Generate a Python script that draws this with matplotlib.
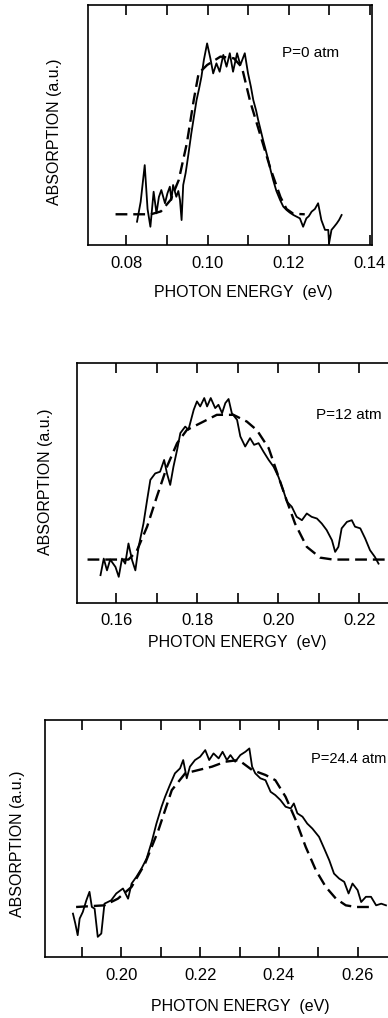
import matplotlib
matplotlib.use("Agg")
import matplotlib.pyplot as plt

plt.rcParams['font.family'] = ['Liberation Sans', 'DejaVu Sans']

# --- P = 0 atm ---
e0_meas = [0.0826, 0.0835, 0.0845, 0.0852, 0.0859, 0.0867, 0.0874, 0.0880, 0.0886, 0.0895, 0.0901,
           0.0907, 0.0911, 0.0915, 0.0923, 0.0928, 0.0932, 0.0936, 0.0940, 0.0946, 0.0952, 0.0960,
           0.0967, 0.0973, 0.0979, 0.0985, 0.0991, 0.0999, 0.1007, 0.1014, 0.1022, 0.1030, 0.1039,
           0.1047, 0.1055, 0.1063, 0.1073, 0.1081, 0.1092, 0.1100, 0.1107, 0.1113, 0.1120, 0.1125,
           0.1131, 0.1137, 0.1143, 0.1150, 0.1156, 0.1162, 0.1170, 0.1179, 0.1187, 0.1195, 0.1203,
           0.1212, 0.1220, 0.1228, 0.1236, 0.1244, 0.1250, 0.1257, 0.1265, 0.1273, 0.1281, 0.1290,
           0.1298, 0.1300, 0.1306, 0.1312, 0.1319, 0.1325, 0.1331]
a0_meas = [0.097, 0.180, 0.333, 0.150, 0.076, 0.222, 0.132, 0.200, 0.229, 0.174, 0.215,
           0.243, 0.188, 0.250, 0.201, 0.225, 0.188, 0.104, 0.250, 0.300, 0.368, 0.465,
           0.540, 0.604, 0.650, 0.701, 0.771, 0.840, 0.778, 0.715, 0.757, 0.722, 0.792,
           0.743, 0.799, 0.722, 0.799, 0.750, 0.799, 0.715, 0.660, 0.604, 0.560, 0.521,
           0.480, 0.438, 0.400, 0.354, 0.310, 0.271, 0.225, 0.188, 0.160, 0.146, 0.135,
           0.125, 0.118, 0.111, 0.076, 0.111, 0.120, 0.139, 0.150, 0.174, 0.104, 0.063,
           0.063, 0.007, 0.063, 0.075, 0.090, 0.105, 0.125]
e0_fit = [0.0773, 0.0860, 0.0885, 0.0909, 0.0929, 0.0949, 0.0966, 0.0978, 0.0999, 0.1032,
          0.1065, 0.1085, 0.1105, 0.1130, 0.1155, 0.1180, 0.1195, 0.1212, 0.1240]
a0_fit = [0.128, 0.128, 0.140, 0.188, 0.271, 0.424, 0.604, 0.715, 0.750, 0.785,
          0.778, 0.740, 0.600, 0.460, 0.320, 0.200, 0.150, 0.130, 0.128]

# --- P = 12 atm ---
e12_meas = [0.1561, 0.1569, 0.1577, 0.1585, 0.1598, 0.1606, 0.1614, 0.1622, 0.1630, 0.1639, 0.1647,
            0.1655, 0.1667, 0.1676, 0.1684, 0.1696, 0.1708, 0.1718, 0.1725, 0.1733, 0.1741, 0.1750,
            0.1758, 0.1770, 0.1778, 0.1791, 0.1799, 0.1807, 0.1817, 0.1824, 0.1833, 0.1844, 0.1852,
            0.1861, 0.1869, 0.1877, 0.1885, 0.1898, 0.1906, 0.1918, 0.1930, 0.1940, 0.1951, 0.1963,
            0.1976, 0.1988, 0.2000, 0.2013, 0.2021, 0.2033, 0.2045, 0.2058, 0.2070, 0.2082, 0.2095,
            0.2107, 0.2119, 0.2132, 0.2140, 0.2148, 0.2156, 0.2169, 0.2181, 0.2189, 0.2202, 0.2214,
            0.2226, 0.2238, 0.2247]
a12_meas = [0.116, 0.185, 0.136, 0.181, 0.150, 0.109, 0.185, 0.164, 0.248, 0.178, 0.136,
            0.234, 0.331, 0.429, 0.513, 0.540, 0.547, 0.596, 0.540, 0.492, 0.568, 0.638,
            0.708, 0.735, 0.722, 0.805, 0.840, 0.819, 0.854, 0.819, 0.854, 0.812, 0.826,
            0.791, 0.833, 0.850, 0.791, 0.763, 0.694, 0.652, 0.687, 0.659, 0.666, 0.631,
            0.596, 0.568, 0.526, 0.464, 0.422, 0.401, 0.359, 0.345, 0.373, 0.359, 0.352,
            0.331, 0.304, 0.262, 0.213, 0.234, 0.311, 0.338, 0.345, 0.318, 0.311, 0.269,
            0.220, 0.192, 0.164]
e12_fit = [0.1529, 0.1630, 0.1650, 0.1676, 0.1700, 0.1725, 0.1750, 0.1774, 0.1807, 0.1848,
           0.1889, 0.1922, 0.1947, 0.1976, 0.1996, 0.2017, 0.2041, 0.2070, 0.2103, 0.2135, 0.2290]
a12_fit = [0.181, 0.181, 0.215, 0.318, 0.443, 0.568, 0.666, 0.721, 0.749, 0.784,
           0.784, 0.756, 0.720, 0.645, 0.547, 0.443, 0.331, 0.234, 0.189, 0.181, 0.181]

# --- P = 24.4 atm ---
e24_meas = [0.1877, 0.1883, 0.1889, 0.1894, 0.1902, 0.1911, 0.1919, 0.1925, 0.1932, 0.1940, 0.1949,
            0.1957, 0.1974, 0.1987, 0.2004, 0.2017, 0.2026, 0.2038, 0.2051, 0.2064, 0.2077, 0.2089,
            0.2102, 0.2111, 0.2123, 0.2136, 0.2149, 0.2157, 0.2166, 0.2174, 0.2187, 0.2200, 0.2213,
            0.2223, 0.2234, 0.2247, 0.2257, 0.2268, 0.2277, 0.2289, 0.2302, 0.2315, 0.2325, 0.2332,
            0.2340, 0.2353, 0.2366, 0.2379, 0.2391, 0.2404, 0.2417, 0.2430, 0.2438, 0.2447, 0.2460,
            0.2472, 0.2485, 0.2502, 0.2515, 0.2528, 0.2540, 0.2553, 0.2566, 0.2577, 0.2587, 0.2600,
            0.2609, 0.2621, 0.2634, 0.2647, 0.2660, 0.2672]
a24_meas = [0.183, 0.141, 0.092, 0.162, 0.190, 0.239, 0.275, 0.211, 0.204, 0.085, 0.099,
            0.225, 0.239, 0.268, 0.289, 0.246, 0.310, 0.338, 0.373, 0.415, 0.486, 0.563,
            0.634, 0.676, 0.725, 0.775, 0.796, 0.831, 0.754, 0.803, 0.831, 0.845, 0.873,
            0.831, 0.859, 0.838, 0.866, 0.831, 0.852, 0.824, 0.852, 0.866, 0.880, 0.803,
            0.775, 0.754, 0.746, 0.697, 0.683, 0.662, 0.634, 0.627, 0.648, 0.606, 0.592,
            0.563, 0.542, 0.507, 0.458, 0.408, 0.352, 0.331, 0.317, 0.268, 0.310, 0.282,
            0.232, 0.254, 0.254, 0.218, 0.225, 0.218]
e24_fit = [0.1885, 0.1957, 0.1991, 0.2026, 0.2060, 0.2094, 0.2128, 0.2162, 0.2196, 0.2230,
           0.2264, 0.2298, 0.2332, 0.2366, 0.2391, 0.2417, 0.2443, 0.2468, 0.2494, 0.2519,
           0.2545, 0.2570, 0.2596, 0.2638]
a24_fit = [0.211, 0.218, 0.246, 0.296, 0.394, 0.535, 0.704, 0.775, 0.789, 0.803,
           0.824, 0.831, 0.789, 0.768, 0.746, 0.676, 0.577, 0.465, 0.366, 0.296,
           0.246, 0.218, 0.211, 0.211]

W, H = 388, 1018
fig = plt.figure(figsize=(W / 100, H / 100), dpi=100)


def px_axes(left, top, right, bottom):
    return fig.add_axes([left / W, 1 - bottom / H, (right - left) / W, (bottom - top) / H])


panels = [
    # axes box px, xlim, ticks, measured, fit, label text/pos, pad, label positions
    dict(box=(88, 5, 372, 245), xlim=(0.0705, 0.1406), ticks=[0.08, 0.10, 0.12, 0.14],
         minor=[0.09, 0.11, 0.13], meas=(e0_meas, a0_meas), fit=(e0_fit, a0_fit),
         ptxt="P=0 atm", ppos=(0.1185, 0.80), psize=11, pad=8,
         xl=(243, 293), yl=(55, 132)),
    dict(box=(77, 363, 400, 603), xlim=(0.1503, 0.2300), ticks=[0.16, 0.18, 0.20, 0.22],
         minor=[0.17, 0.19, 0.21], meas=(e12_meas, a12_meas), fit=(e12_fit, a12_fit),
         ptxt="P=12 atm", ppos=(0.2093, 0.784), psize=11, pad=7,
         xl=(237, 643), yl=(46, 482)),
    dict(box=(45, 720, 397, 957), xlim=(0.1806, 0.2700), ticks=[0.20, 0.22, 0.24, 0.26],
         minor=[0.19, 0.21, 0.23, 0.25], meas=(e24_meas, a24_meas), fit=(e24_fit, a24_fit),
         ptxt="P=24.4 atm", ppos=(0.2481, 0.834), psize=10.5, pad=8,
         xl=(240, 1007), yl=(18, 844)),
]

for p in panels:
    ax = px_axes(*p["box"])
    ax.plot(p["fit"][0], p["fit"][1], color="black", lw=1.7, dashes=(5, 2.5))
    ax.plot(p["meas"][0], p["meas"][1], color="black", lw=1.3)
    ax.set_xlim(*p["xlim"])
    ax.set_ylim(0, 1)
    ax.set_xticks(p["ticks"])
    ax.set_xticklabels([f"{t:.2f}" for t in p["ticks"]])
    ax.set_xticks(p["minor"], minor=True)
    ax.set_yticks([])
    ax.tick_params(axis="x", which="both", direction="in", top=True, bottom=True,
                   length=7, width=1.2, labelsize=12, pad=p["pad"])
    for s in ax.spines.values():
        s.set_linewidth(1.2)
    ax.text(p["ppos"][0], p["ppos"][1], p["ptxt"], fontsize=p["psize"], ha="left", va="center")
    fig.text(p["xl"][0] / W, 1 - p["xl"][1] / H, "PHOTON ENERGY  (eV)", fontsize=11.5,
             ha="center", va="center")
    fig.text(p["yl"][0] / W, 1 - p["yl"][1] / H, "ABSORPTION (a.u.)", fontsize=11.5,
             rotation=90, ha="center", va="center")

fig.savefig("out.png", dpi=100)
